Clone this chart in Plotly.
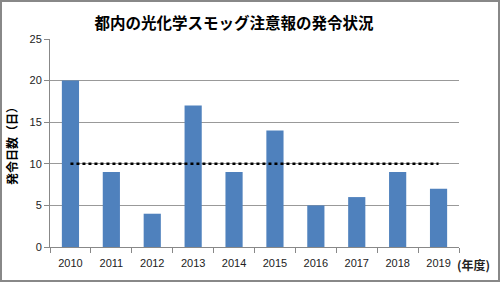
import plotly.graph_objects as go

years = ["2010", "2011", "2012", "2013", "2014", "2015", "2016", "2017", "2018", "2019"]
days = [20, 9, 4, 17, 9, 14, 5, 6, 9, 7]
reference_line = [10, 10, 10, 10, 10, 10, 10, 10, 10, 10]
y_ticks = [0, 5, 10, 15, 20, 25]

W, H = 500, 282
L, R, T, B = 50, 41, 39, 35
pw, ph = W - L - R, H - T - B

jp = "Noto Sans CJK JP"

fig = go.Figure()
fig.add_trace(go.Bar(x=years, y=days, marker=dict(color="#4F81BD", line=dict(width=0)),
                     width=0.42))
fig.add_trace(go.Scatter(x=years, y=reference_line, mode="lines",
                         line=dict(color="black", width=2.5, dash="dot")))

fig.update_layout(
    width=W, height=H, margin=dict(l=L, r=R, t=T, b=B),
    paper_bgcolor="white", plot_bgcolor="white", showlegend=False,
    title=dict(text="<b>都内の光化学スモッグ注意報の発令状況</b>", x=234 / W, xanchor="center",
               y=1 - 24 / H, yanchor="middle", font=dict(family=jp, size=15.5, color="black")),
    xaxis=dict(type="category", showline=True, linecolor="#888", linewidth=1,
               ticks="outside", tickson="boundaries", ticklen=5, tickcolor="#888",
               ticklabelstandoff=6,
               tickfont=dict(family="Liberation Sans", size=11, color="#222")),
    yaxis=dict(range=[0, 25], tickvals=y_ticks, showline=True, linecolor="#888", linewidth=1,
               ticks="outside", ticklen=5, tickcolor="#888", showgrid=True, gridcolor="#999",
               gridwidth=1, zeroline=False,
               tickfont=dict(family="Liberation Sans", size=11, color="#222"),
               title=dict(text="<b>発令日数（日）</b>", standoff=9,
                          font=dict(family=jp, size=12, color="black"))),
)

fig.add_annotation(text="<b>(年度)</b>", xref="paper", yref="paper",
                   x=(455 - L) / pw, y=-(264 - (T + ph)) / ph, xanchor="left", yanchor="middle",
                   showarrow=False, font=dict(family=jp, size=12, color="#222"))

fig.add_shape(type="rect", xref="paper", yref="paper",
              x0=(1 - L) / pw, x1=(W - 1 - L) / pw,
              y0=1 + (T - 1) / ph, y1=-(B - 1) / ph,
              line=dict(color="#888", width=2))

fig.write_html("out.html")
